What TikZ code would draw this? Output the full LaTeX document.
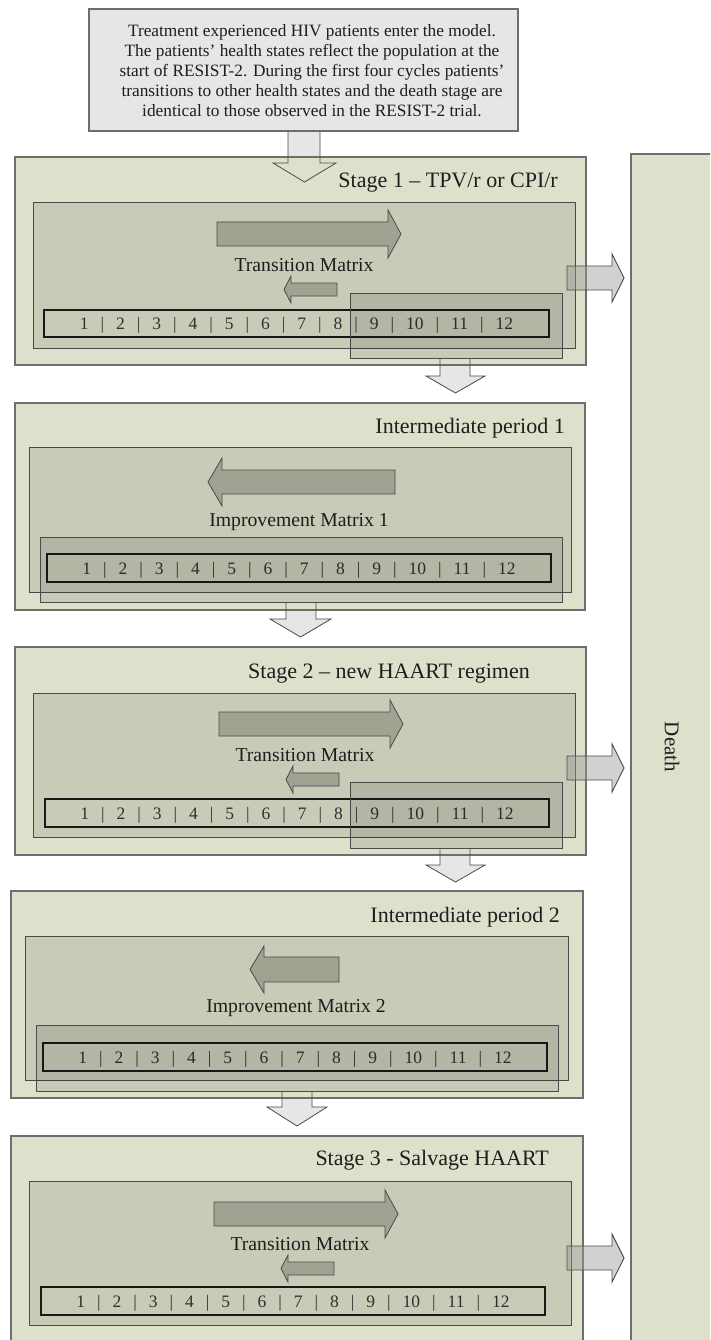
\documentclass[tikz,border=0pt]{standalone}
\usepackage{fontspec}
\setmainfont{Liberation Serif}
\definecolor{stagefill}{HTML}{DDE1CB}
\definecolor{innerfill}{HTML}{C8CBB7}
\definecolor{arrowfill}{HTML}{9FA392}
\definecolor{topfill}{HTML}{E6E6E6}
\definecolor{boxline}{HTML}{6E6E6E}
\definecolor{darkline}{HTML}{4A4A4A}
\definecolor{txt}{HTML}{1E1E1E}
\definecolor{numtxt}{HTML}{303030}
\newcommand{\nsep}{\hspace{12pt}|\hspace{12pt}}
\newcommand{\numrow}{1\nsep 2\nsep 3\nsep 4\nsep 5\nsep 6\nsep 7\nsep 8\nsep 9\nsep 10\nsep 11\nsep 12}
\tikzset{
  stagebox/.style={fill=stagefill, draw=boxline, line width=1.2pt},
  innerbox/.style={fill=innerfill, draw=darkline, line width=1pt},
  numbar/.style={draw=black!90, line width=1.5pt},
  overlaybox/.style={fill=black, fill opacity=0.1, draw=darkline, line width=1pt},
  blkarrow/.style={fill=arrowfill, draw=darkline, line width=0.8pt},
  deatharrow/.style={fill=black!40, fill opacity=0.45, draw=darkline, line width=0.9pt},
  downfill/.style={fill=topfill},
  downline/.style={draw=darkline, line width=0.8pt},
  titletext/.style={font=\fontsize{22}{26}\selectfont, text=txt, inner sep=0pt},
  labeltext/.style={font=\fontsize{19.7}{23}\selectfont, text=txt, inner sep=0pt},
  numtext/.style={font=\fontsize{17.5}{20}\selectfont, text=numtxt, inner sep=0pt},
}
\begin{document}
\begin{tikzpicture}[x=1pt,y=-1pt]
\useasboundingbox (0,0) rectangle (710,1340);
\clip (0,0) rectangle (710,1340);

% ---- down arrow fills (behind boxes)
\fill[downfill] (288,131) -- (288,163) -- (273,163) -- (304.5,182) -- (336,163) -- (320,163) -- (320,131) -- cycle;
\fill[downfill] (440,358) -- (440,376) -- (426,376) -- (455.5,393) -- (485,376) -- (470,376) -- (470,358) -- cycle;
\fill[downfill] (286,602) -- (286,619) -- (270,619) -- (300.5,637) -- (331,619) -- (316,619) -- (316,602) -- cycle;
\fill[downfill] (440,848) -- (440,865) -- (426,865) -- (455.5,882) -- (485,865) -- (470,865) -- (470,848) -- cycle;
\fill[downfill] (282,1091) -- (282,1107) -- (267,1107) -- (297,1126) -- (327,1107) -- (312,1107) -- (312,1091) -- cycle;

% ---- intro box
\draw[fill=topfill, draw=boxline, line width=1.2pt] (89,9) rectangle (518,131);
\node[font=\fontsize{17.3}{20}\selectfont, text=txt, align=center, inner sep=0pt] (intro) at (312,71)
  {Treatment experienced HIV patients enter the model.\\
   The patients’ health states reflect the population at the\\
   start of RESIST-2. During the first four cycles patients’\\
   transitions to other health states and the death stage are\\
   identical to those observed in the RESIST-2 trial.};

% ---- death box
\draw[stagebox] (631,154) rectangle (714,1350);
\node[font=\fontsize{21}{24}\selectfont, text=txt, rotate=-90, inner sep=0pt] (death) at (672,747) {Death};

% ---- Stage 1
\draw[stagebox] (15,157) rectangle (586,365);
\draw[innerbox] (33,203) rectangle (575,348);
\draw[numbar] (44,310) rectangle (549,337);
\node[numtext, anchor=base] (nums1) at (296.5,329.5) {\numrow};
\draw[overlaybox] (350,293) rectangle (562,358);
\draw[blkarrow] (217,222) -- (388,222) -- (388,210) -- (401,234) -- (388,258) -- (388,246) -- (217,246) -- cycle;
\draw[blkarrow] (337,283) -- (291,283) -- (291,276) -- (284,289.5) -- (291,303) -- (291,296) -- (337,296) -- cycle;
\node[labeltext, anchor=base] (tm1) at (304,271) {Transition Matrix};
\node[titletext, anchor=base east] (t1) at (558,188) {Stage 1 – TPV/r or CPI/r};

% ---- Intermediate period 1
\draw[stagebox] (15,403) rectangle (585,610);
\draw[innerbox] (29,447) rectangle (571,592);
\draw[numbar] (47,554) rectangle (551,582);
\node[numtext, anchor=base] (nums2) at (299,574) {\numrow};
\draw[overlaybox] (40,537) rectangle (562,602);
\draw[blkarrow] (395,470) -- (222,470) -- (222,458) -- (208,482) -- (222,506) -- (222,494) -- (395,494) -- cycle;
\node[labeltext, anchor=base] (im1) at (299,526) {Improvement Matrix 1};
\node[titletext, anchor=base east] (t2) at (565,433) {Intermediate period 1};

% ---- Stage 2
\draw[stagebox] (15,647) rectangle (586,855);
\draw[innerbox] (33,693) rectangle (575,837);
\draw[numbar] (45,799) rectangle (549,827);
\node[numtext, anchor=base] (nums3) at (297,819) {\numrow};
\draw[overlaybox] (350,782) rectangle (562,848);
\draw[blkarrow] (219,712) -- (390,712) -- (390,700) -- (403,724) -- (390,748) -- (390,736) -- (219,736) -- cycle;
\draw[blkarrow] (339,773) -- (293,773) -- (293,766) -- (286,779.5) -- (293,793) -- (293,786) -- (339,786) -- cycle;
\node[labeltext, anchor=base] (tm2) at (305,761) {Transition Matrix};
\node[titletext, anchor=base east] (t3) at (530,678) {Stage 2 – new HAART regimen};

% ---- Intermediate period 2
\draw[stagebox] (11,891) rectangle (583,1098);
\draw[innerbox] (25,936) rectangle (568,1080);
\draw[numbar] (43,1043) rectangle (547,1071);
\node[numtext, anchor=base] (nums4) at (295,1063) {\numrow};
\draw[overlaybox] (36,1025) rectangle (558,1091);
\draw[blkarrow] (339,957) -- (264,957) -- (264,946) -- (250,969.5) -- (264,993) -- (264,982) -- (339,982) -- cycle;
\node[labeltext, anchor=base] (im2) at (296,1012) {Improvement Matrix 2};
\node[titletext, anchor=base east] (t4) at (560,922) {Intermediate period 2};

% ---- Stage 3
\draw[stagebox] (11,1136) rectangle (583,1350);
\draw[innerbox] (29,1181) rectangle (571,1325);
\draw[numbar] (41,1287) rectangle (545,1315);
\node[numtext, anchor=base] (nums5) at (293,1307) {\numrow};
\draw[blkarrow] (214,1202) -- (385,1202) -- (385,1190) -- (398,1214) -- (385,1238) -- (385,1226) -- (214,1226) -- cycle;
\draw[blkarrow] (334,1262) -- (288,1262) -- (288,1255) -- (281,1268.5) -- (288,1282) -- (288,1275) -- (334,1275) -- cycle;
\node[labeltext, anchor=base] (tm3) at (300,1250) {Transition Matrix};
\node[titletext, anchor=base east] (t5) at (549,1165) {Stage 3 - Salvage HAART};

% ---- arrows to death
\draw[deatharrow] (567,266) -- (612,266) -- (612,254) -- (624,278) -- (612,302) -- (612,290) -- (567,290) -- cycle;
\draw[deatharrow] (567,756) -- (612,756) -- (612,744) -- (624,768) -- (612,792) -- (612,780) -- (567,780) -- cycle;
\draw[deatharrow] (567,1246) -- (612,1246) -- (612,1234) -- (624,1258) -- (612,1282) -- (612,1270) -- (567,1270) -- cycle;

% ---- down arrow outlines (on top)
\draw[downline] (288,131) -- (288,163) -- (273,163) -- (304.5,182) -- (336,163) -- (320,163) -- (320,131);
\draw[downline] (440,358) -- (440,376) -- (426,376) -- (455.5,393) -- (485,376) -- (470,376) -- (470,358);
\draw[downline] (286,602) -- (286,619) -- (270,619) -- (300.5,637) -- (331,619) -- (316,619) -- (316,602);
\draw[downline] (440,848) -- (440,865) -- (426,865) -- (455.5,882) -- (485,865) -- (470,865) -- (470,848);
\draw[downline] (282,1091) -- (282,1107) -- (267,1107) -- (297,1126) -- (327,1107) -- (312,1107) -- (312,1091);
\end{tikzpicture}
\end{document}
